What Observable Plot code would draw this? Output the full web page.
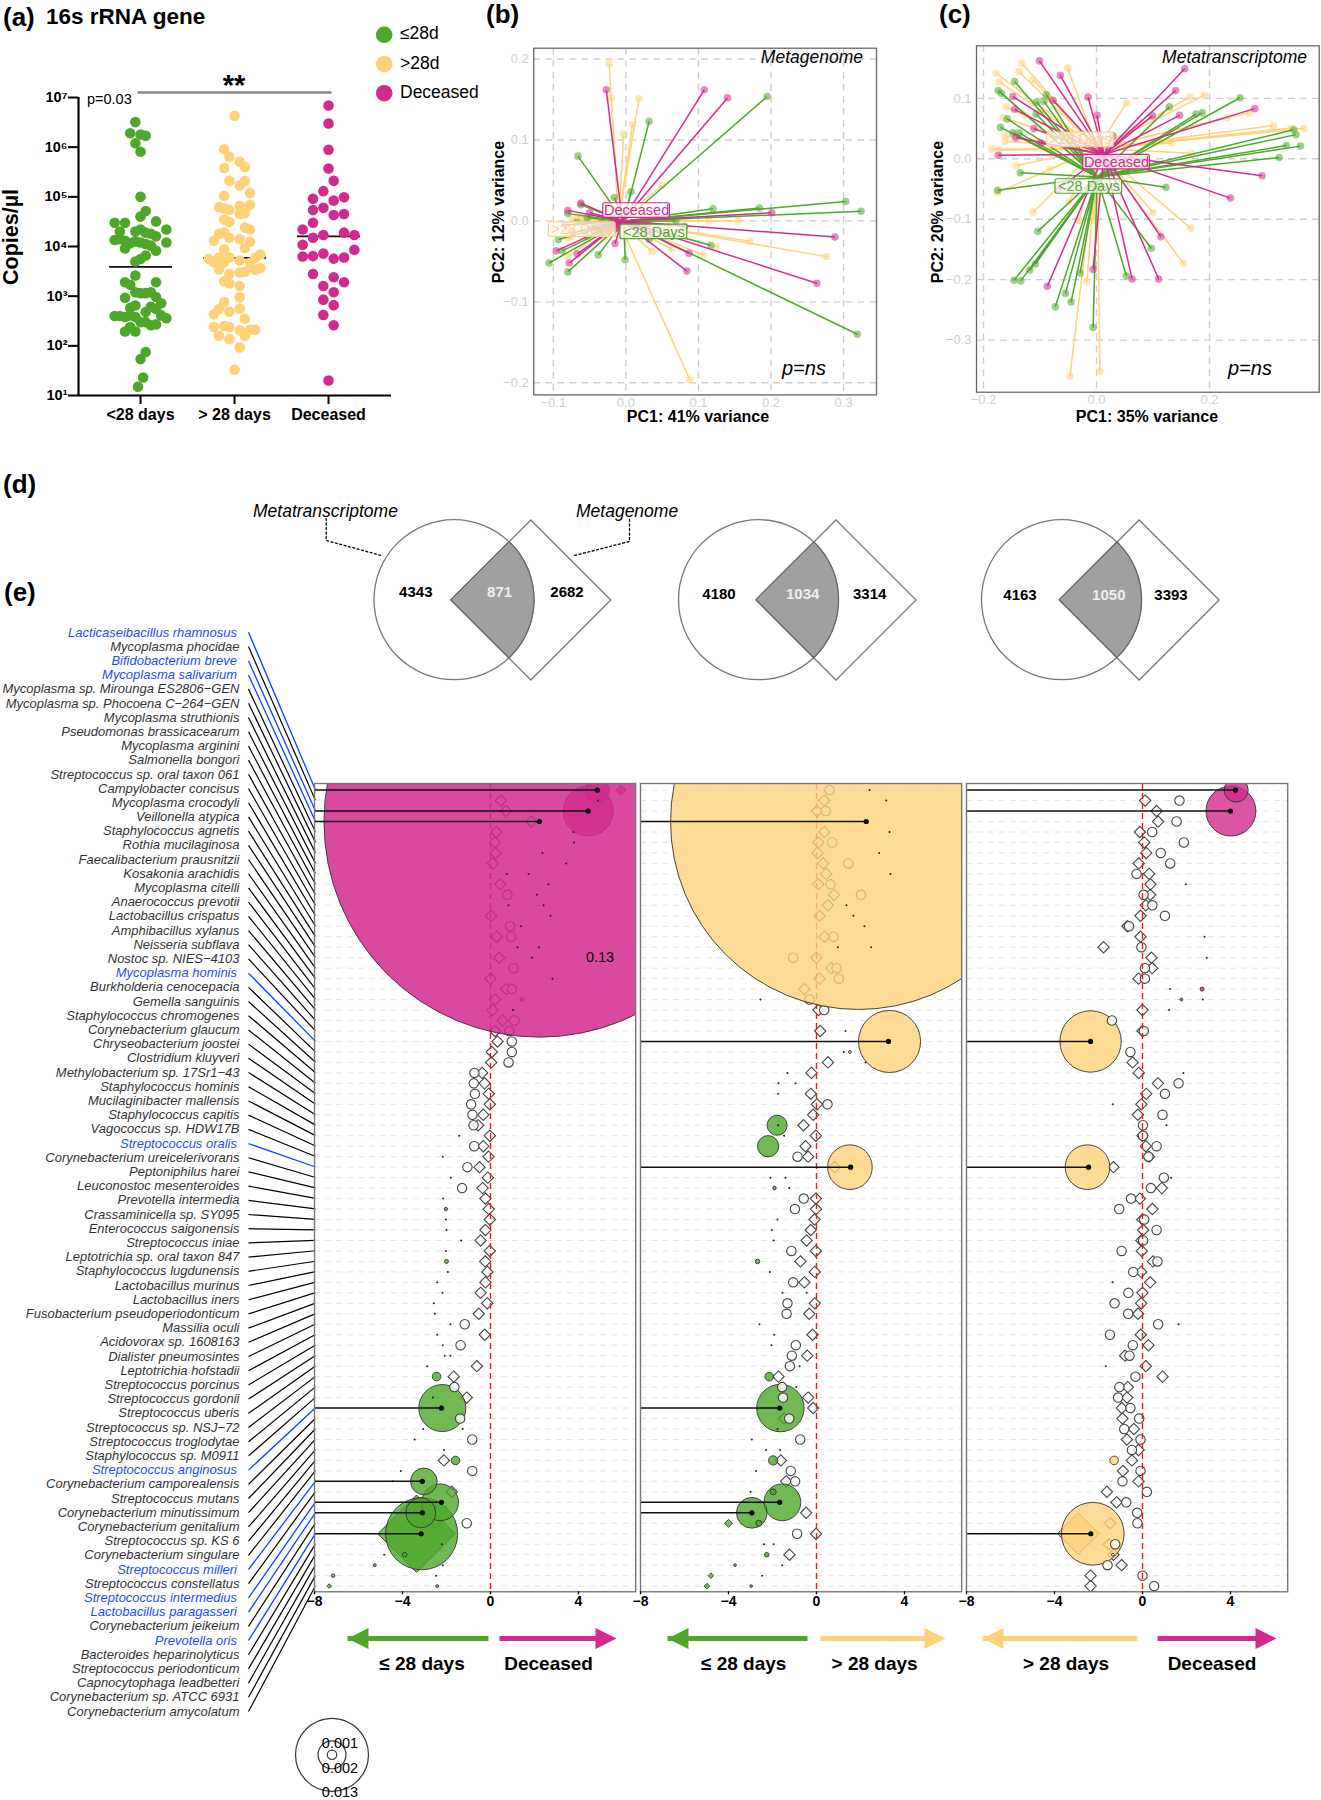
<!DOCTYPE html>
<html><head><meta charset="utf-8">
<script src="https://cdn.jsdelivr.net/npm/d3@7"></script>
<script src="https://cdn.jsdelivr.net/npm/@observablehq/plot@0.6"></script>
<style>
html,body{margin:0;background:#fff}
#fig{position:relative;width:1321px;height:1800px;overflow:hidden;font-family:"Liberation Sans",Arial,sans-serif;color:#000}
#fig svg{position:absolute}
#fig span{position:absolute;white-space:nowrap;line-height:1}
</style></head><body><div id="fig"></div>
<script>
const GREEN="#4EA72A", YELLOW="#FFD27A", MAGENTA="#D22B8F";
const groupColor={early:GREEN,late:YELLOW,dead:MAGENTA};

// ---------- (a) [swarm offset, copies/µl]
const categories=["<28 days","> 28 days","Deceased"];
const aEarly=[[-1,3.2e6],[-2,1.9e6],[0,1.8e6],[1,1.7e6],[-1,1.2e6],[0,8.1e5],[0,1e5],[1,5.2e4],[0,4e4],[-5,3e4],[-3,3e4],[3,3.2e4],[5,2.2e4],[-4,2e4],[-1,2e4],[0,2.2e4],[1,1.9e4],[2,1.8e4],[3,1.6e4],[-5,1.35e4],[-4,1.4e4],[-3,1.3e4],[-2,1.16e4],[-1,1.27e4],[0,1.2e4],[1,1.12e4],[2,1.04e4],[5,1.2e4],[-3,9.1e3],[3,8.2e3],[1,6.6e3],[0,5.6e3],[-1,5e3],[-1,2.6e3],[-3,1.9e3],[3,1.9e3],[-2,1.7e3],[-1,1.2e3],[0,1.15e3],[1,1.15e3],[2,1.2e3],[-3,930],[3,960],[4,720],[-1,650],[-2,580],[2,610],[3,550],[-5,400],[-4,400],[-3,380],[-2,410],[-1,380],[1,480],[4,410],[5,360],[0,300],[1,300],[2,260],[3,270],[-3,195],[-1,195],[-2,240],[1,75],[0,54],[0.5,23],[-0.5,15]];
const aLate=[[0,4.3e6],[-2,9.1e5],[-1,6.4e5],[1,5.1e5],[2,4e5],[-2,3.8e5],[2,2.1e5],[-1,2.1e5],[1,1.7e5],[3,1.2e5],[-2,1.05e5],[3,6.9e4],[-3,6.2e4],[-2,5.9e4],[1,6.6e4],[-1,5.5e4],[2,4.7e4],[1,4.5e4],[-2,3.5e4],[-1,3.1e4],[2,2.4e4],[3,2.2e4],[-3,1.8e4],[-2,1.9e4],[-1,1.5e4],[1,1.4e4],[3,1.25e4],[-4,1.3e4],[-2,8.8e3],[2,9.3e3],[-5,5.6e3],[-3,6e3],[-1,6e3],[-2,4.8e3],[1,5.2e3],[5,6.9e3],[4,5.9e3],[-4,4.8e3],[-3,3.5e3],[5,3.7e3],[4,3.4e3],[3,4.7e3],[2,3.1e3],[1,3e3],[-1,2.8e3],[-2,2e3],[-1,1.8e3],[1,1.6e3],[1,950],[-2,760],[-3,550],[-4,430],[1,560],[-1,490],[2,350],[-4,240],[-2,250],[-1,240],[1,205],[4,210],[3,210],[-3,160],[2,160],[-1,136],[1,93],[0,33]];
const aDead=[[0,6.9e6],[0,3e6],[0,8.9e5],[0,3.7e5],[1,2.1e5],[-1,1.3e5],[-3,9.1e4],[3,9.8e4],[1,8.4e4],[-3,5.4e4],[-1,6e4],[1,4.3e4],[3,4.5e4],[-3,3e4],[-5,2.2e4],[3,1.9e4],[5,1.7e4],[-1,1.7e4],[-3,1.5e4],[-5,1.08e4],[5,8.6e3],[-1,7.2e3],[-3,6.4e3],[-5,6.3e3],[1,5.7e3],[3,6e3],[-3,2.8e3],[1,2.4e3],[3,1.9e3],[-1,1.6e3],[1,1.2e3],[-1,850],[1,660],[-1,420],[1,260],[0,20]];
const aMedians=[3900,5900,16000];
const aTicks=[10,1e2,1e3,1e4,1e5,1e6,1e7];
const aTickLabels=["10¹","10²","10³","10⁴","10⁵","10⁶","10⁷"];

// ---------- (b) Metagenome PCA [PC1, PC2]
const bGreen=[[.1945,.1537],[.032,.123],[-.066,.08],[.303,.024],[.324,.012],[.184,.016],[.12,.015],[-.016,.029],[.007,.036],[-.062,.02],[-.08,.009],[-.067,-.002],[-.053,.004],[-.046,-.006],[-.033,-.002],[-.093,-.023],[-.054,-.019],[-.088,-.037],[-.106,-.052],[-.08,-.063],[-.038,-.042],[-.001,-.048],[.032,-.023],[.081,-.007],[.117,-.03],[.319,-.14],[.069,0]];
const bMagenta=[[-.027,.162],[.108,.162],[.14,.152],[.201,.01],[.288,-.02],[.263,-.077],[.084,-.062],[.087,-.04],[.036,-.015],[.029,-.005],[-.015,-.028],[-.013,-.009],[-.04,-.011],[-.08,.013],[-.062,.022],[-.05,.01],[-.084,-.005],[-.074,-.015],[-.096,-.037],[-.067,-.041],[-.078,-.052]];
const bYellow=[[-.023,.194],[-.02,.152],[.018,.151],[.009,.119],[-.003,.107],[.05,.044],[-.027,.021],[.155,0],[.114,0],[.059,-.005],[.075,-.012],[.171,-.025],[.124,-.032],[.276,-.044],[.107,-.042],[.063,-.035],[.036,-.038],[.088,-.196],[-.08,-.044],[-.076,-.02],[-.083,-.016],[-.08,-.021],[-.067,.005],[-.074,.002],[-.06,.005],[-.03,-.021],[-.01,-.018]];
const bCentroids={green:[-.003,-.0005],magenta:[-.005,0],yellow:[-.01,0]};
const bLabels=[{t:">28 Days",x:-.0602,y:-.0107,c:YELLOW},{t:"Deceased",x:.0147,y:.0128,c:MAGENTA},{t:"<28 Days",x:.0386,y:-.0136,c:GREEN}];

// ---------- (c) Metatranscriptome PCA
const cGreen=[[.254,.101],[.349,.048],[.353,.04],[.336,.022],[.361,.021],[.323,.002],[.187,.076],[.176,.074],[.129,.086],[.123,-.047],[.08,-.001],[.097,-.148],[.053,-.194],[-.006,-.279],[-.045,-.237],[-.055,-.223],[-.073,-.245],[-.029,-.189],[-.118,-.184],[-.108,-.174],[-.146,-.201],[-.134,-.202],[-.104,-.12],[-.175,-.052],[-.135,-.023],[-.17,.052],[-.158,.066],[-.148,.043],[-.137,.043],[-.174,.113],[-.168,.108],[-.145,.128],[-.089,.106],[-.093,.095],[-.106,.094],[-.107,.074]];
const cMagenta=[[.156,.149],[.14,.113],[.147,.072],[.099,.071],[.28,.083],[.293,-.028],[.237,-.065],[.114,-.129],[.11,-.199],[.063,-.199],[-.006,-.183],[-.087,-.211],[-.067,-.05],[-.174,.006],[-.143,.035],[-.098,.026],[-.111,.05],[-.145,.082],[-.148,.103],[-.077,.097],[-.101,.162],[-.064,.138],[-.015,.102],[.001,.072],[.029,.038],[.001,0]];
const cYellow=[[-.132,.158],[-.137,.144],[-.178,.142],[-.172,.127],[-.112,.131],[-.051,.15],[.053,.092],[.165,.102],[.191,.105],[.231,.068],[.27,.076],[.313,.055],[.345,.051],[.367,.05],[.133,.026],[.168,.009],[.1,-.089],[.167,-.115],[.154,-.173],[-.017,-.204],[.006,-.352],[-.047,-.36],[-.031,-.102],[-.112,-.088],[-.049,-.071],[-.175,-.056],[-.142,-.011],[-.083,-.017],[-.185,.016],[-.172,.014],[-.161,.029],[-.162,.038],[-.165,.068],[-.16,.086],[-.126,.072],[-.005,-.102]];
const cCentroids={green:[.001,-.03],magenta:[.013,.007],yellow:[.001,.017]};
const cLabels=[{t:">28 Days",x:-.0283,y:.0314,c:YELLOW},{t:"Deceased",x:.0354,y:-.0055,c:MAGENTA},{t:"<28 Days",x:-.0136,y:-.0458,c:GREEN}];

// ---------- (d) Venn counts
const vennMeta=[4343,4180,4163], vennShared=[871,1034,1050], vennGenome=[2682,3314,3393];

// ---------- (e) species
const species=["Lacticaseibacillus rhamnosus","Mycoplasma phocidae","Bifidobacterium breve","Mycoplasma salivarium","Mycoplasma sp. Mirounga ES2806−GEN","Mycoplasma sp. Phocoena C−264−GEN","Mycoplasma struthionis","Pseudomonas brassicacearum","Mycoplasma arginini","Salmonella bongori","Streptococcus sp. oral taxon 061","Campylobacter concisus","Mycoplasma crocodyli","Veillonella atypica","Staphylococcus agnetis","Rothia mucilaginosa","Faecalibacterium prausnitzii","Kosakonia arachidis","Mycoplasma citelli","Anaerococcus prevotii","Lactobacillus crispatus","Amphibacillus xylanus","Neisseria subflava","Nostoc sp. NIES−4103","Mycoplasma hominis","Burkholderia cenocepacia","Gemella sanguinis","Staphylococcus chromogenes","Corynebacterium glaucum","Chryseobacterium joostei","Clostridium kluyveri","Methylobacterium sp. 17Sr1−43","Staphylococcus hominis","Mucilaginibacter mallensis","Staphylococcus capitis","Vagococcus sp. HDW17B","Streptococcus oralis","Corynebacterium ureicelerivorans","Peptoniphilus harei","Leuconostoc mesenteroides","Prevotella intermedia","Crassaminicella sp. SY095","Enterococcus saigonensis","Streptococcus iniae","Leptotrichia sp. oral taxon 847","Staphylococcus lugdunensis","Lactobacillus murinus","Lactobacillus iners","Fusobacterium pseudoperiodonticum","Massilia oculi","Acidovorax sp. 1608163","Dialister pneumosintes","Leptotrichia hofstadii","Streptococcus porcinus","Streptococcus gordonii","Streptococcus uberis","Streptococcus sp. NSJ−72","Streptococcus troglodytae","Staphylococcus sp. M0911","Streptococcus anginosus","Corynebacterium camporealensis","Streptococcus mutans","Corynebacterium minutissimum","Corynebacterium genitalium","Streptococcus sp. KS 6","Corynebacterium singulare","Streptococcus milleri","Streptococcus constellatus","Streptococcus intermedius","Lactobacillus paragasseri","Corynebacterium jeikeium","Prevotella oris","Bacteroides heparinolyticus","Streptococcus periodonticum","Capnocytophaga leadbetteri","Corynebacterium sp. ATCC 6931","Corynebacterium amycolatum"];
const blueRows=[1,3,4,25,37,60,67,69,70,72];

// panel 1: ≤28 days vs Deceased  — [row, log2FC] / [row, log2FC, size, group]
const p1Diamonds=[[2,.47],[3,.7],[4,1.86],[5,.27],[6,.2],[7,.23],[8,.11],[10,.45],[13,.03],[15,.29],[17,.39],[19,0],[20,.71],[21,.21],[22,.09],[23,.55],[24,.21],[25,.32],[26,.06],[27,.03],[28,-.38],[29,-.27],[30,-.08],[31,-.03],[32,-.33],[33,-.56],[34,-.03],[35,-.33],[36,-.09],[37,-.5],[38,-.12],[39,-.36],[40,-.23],[41,-.08],[42,-.03],[43,-.23],[44,-.45],[45,-.03],[46,-.24],[47,-.14],[48,-.23],[49,-.45],[50,-.15],[51,-.53],[53,-.26],[56,-.62],[57,-1.67],[59,-1.08],[65,-2.12],[68,-1.76],[71,-2.5]];
const p1Circles=[[11,.77],[14,.89],[15,.94],[18,1.05],[20,.97],[23,1.09],[24,.85],[25,.97],[26,.97],[27,.82],[28,-.73],[29,-.76],[30,-.71],[31,-.88],[32,-.82],[33,-.77],[35,-.74],[37,-1.05],[39,-1.29],[52,-1.17],[54,-1.36],[58,-1.64],[61,-1.38],[63,-.83],[66,-.83],[71,-1.08]];
const p1Tiny=[[2,4.88],[5,3.77],[6,3.8],[7,2.36],[8,3.44],[9,.74],[9,1.73],[10,2.64],[11,2.11],[12,.82],[12,2.41],[13,2.73],[14,1.39],[16,1.23],[16,2.2],[17,1.88],[19,2.82],[22,1.02],[34,-1.42],[36,-2.17],[38,-1.8],[40,-2.15],[42,-2.03],[43,-2],[44,-1.33],[45,-2.03],[47,-1.94],[48,-2.42],[49,-2.18],[50,-2.58],[51,-2.53],[52,-1.82],[53,-2.42],[54,-2.17],[55,-2.08],[55,-1.82],[56,-2.88],[59,-2.62],[60,-2.44],[62,-3.06],[62,-1.26],[63,-3.45],[64,-2.11],[66,-4.08],[67,-4.45],[73,-2.21],[74,-4.83],[75,-2.17],[76,-2.47]];
const p1FilledDiamonds=[[1,5.92,.0002,"dead"],[77,-7.33,.000043,"early"],[72,-3.36,.0119,"early"]];
const p1Filled=[[57,-2.45,.00018,"early"],[65,-1.59,.00018,"early"],[41,-2.03,.000028,"early"],[46,-2,.000039,"early"],[75,-5.26,.00002,"early"],[76,-7.15,.00003,"early"],[77,-2.42,.00002,"early"],[74,-3.9,.00005,"early"],[21,1.42,.00003,"dead"],[60,-2.19,.0054,"early"],[67,-3.03,.00173,"early"],[69,-2.29,.0033,"early"],[70,-3.17,.0022,"early"],[72,-3.13,.0127,"early"],[1,4.86,.0014,"dead"],[3,4.44,.0061,"dead"]];
const p1Giant=[[4,2.23,.454,"dead"]];
const p1Lollipops=[[1,4.86],[3,4.44],[4,2.23],[60,-2.23],[67,-3.1],[69,-2.23],[70,-3.1],[72,-3.15]];

// panel 2: ≤28 days vs >28 days
const p2Diamonds=[[2,.35],[3,.03],[5,.36],[6,.09],[7,.05],[8,.3],[9,.44],[10,.08],[11,.79],[12,.52],[13,.14],[15,.36],[17,0],[18,.68],[19,.14],[20,-.55],[22,.09],[24,.17],[27,.52],[28,-.23],[30,-.26],[31,.02],[32,-.15],[33,-.59],[34,-.03],[35,-.5],[36,-.38],[37,.82],[40,-.03],[41,-.02],[42,-.09],[43,-.26],[44,-.45],[45,-.03],[46,-.73],[47,-.08],[48,-.55],[50,-.08],[51,-.33],[53,-.18],[55,-.42],[57,-1.73],[59,-.38],[60,-.15],[61,-1.47],[65,-1.62],[67,-1.38],[70,-.47],[72,-.02],[74,-1.23]];
const p2Circles=[[1,.59],[3,.42],[6,.71],[8,1.45],[10,.64],[11,2.02],[15,.77],[17,-1.06],[18,.91],[19,1.02],[21,-.32],[22,.35],[31,.5],[36,-.86],[40,-.58],[41,-.98],[45,-1.14],[48,-1.06],[50,-1.32],[51,-1.36],[54,-.94],[55,-1.12],[56,-1.21],[58,-1.56],[59,-1.52],[61,-1.24],[63,-.74],[66,-1.17],[67,-.97],[72,-.88]];
const p2Tiny=[[1,2.41],[2,3.17],[5,3.32],[7,2.85],[9,3.36],[12,1.36],[13,1.68],[14,2.18],[16,.97],[16,2.48],[21,-2.55],[24,1.32],[26,1.24],[27,2.23],[28,-1.32],[29,-1.73],[29,-.95],[30,-1.74],[33,-1.74],[34,-1.47],[38,-2.09],[38,-1.41],[39,-1.24],[42,-1.77],[43,-2.03],[44,-1.95],[47,-2.12],[49,-1.55],[49,-.45],[52,-2.59],[53,-1.92],[54,-2.05],[56,-.77],[58,-.92],[62,-1.77],[63,-2.94],[64,-2.29],[64,-1.65],[66,-2.74],[68,-3],[73,-2.38],[73,-1.95],[75,-1.56],[76,-2.47]];
const p2FilledDiamonds=[[71,-4,.00012,"early"],[76,-4.8,.00006,"early"],[77,-4.98,.00006,"early"]];
const p2Filled=[[26,1.52,.00002,"late"],[39,-1.91,.00003,"early"],[46,-2.68,.00005,"early"],[57,-2.15,.00018,"early"],[65,-1.97,.00021,"early"],[68,-1.97,.00009,"early"],[71,-2.62,.00009,"early"],[74,-2.26,.00005,"early"],[75,-3.7,.000017,"early"],[77,-2.97,.000017,"early"],[33,-1.79,.00098,"early"],[35,-2.2,.0011,"early"],[60,-1.64,.0055,"early"],[69,-1.55,.0033,"early"],[70,-2.94,.0023,"early"],[25,3.32,.0094,"late"],[37,1.52,.00486,"late"]];
const p2Giant=[[4,1.91,.345,"late"]];
const p2Lollipops=[[4,2.26],[25,3.27],[37,1.55],[60,-1.67],[69,-1.67],[70,-2.94]];

// panel 3: >28 days vs Deceased
const p3Diamonds=[[2,.12],[3,.64],[4,.71],[5,-.12],[6,.08],[7,.17],[8,-.17],[9,.3],[10,.36],[11,.35],[12,.15],[13,-.09],[14,-.68],[15,-.09],[16,-1.77],[17,.41],[18,.44],[19,-.18],[22,0],[24,0],[27,-.45],[28,-.17],[29,.7],[30,.17],[31,-.05],[32,-.21],[34,0],[35,.15],[36,.3],[37,-1.32],[39,.88],[40,-.12],[41,.45],[42,0],[43,.03],[44,-.05],[45,-.03],[46,.48],[47,-.06],[48,.35],[49,0],[50,-.06],[51,-.2],[53,-.08],[54,.27],[55,-.79],[56,.15],[57,.91],[58,-.67],[59,-.7],[60,-.94],[61,-.91],[62,-.39],[63,-.71],[64,-.18],[65,-.48],[66,-.89],[67,-.18],[68,-1.62],[69,-1.18],[71,-1.47],[73,-1.52],[74,-1.32],[75,-.95],[76,-2.36],[77,-2.36]];
const p3Circles=[[2,1.68],[4,1.55],[5,.44],[6,1.88],[7,.83],[8,1.26],[9,-.27],[11,.05],[12,.45],[13,1.02],[14,-.61],[16,-.05],[18,.11],[19,.11],[23,-1.39],[24,.06],[26,-.55],[29,1.64],[30,1.02],[32,.91],[33,.02],[34,.02],[35,.64],[36,.27],[38,.97],[39,.38],[40,-.52],[41,-1.06],[42,.08],[43,.64],[44,.03],[45,-.95],[46,.68],[47,-.42],[49,-.64],[50,-1.27],[51,-.65],[52,.71],[53,-1.48],[54,-.44],[55,-.59],[57,-.32],[58,-1.05],[59,-1.11],[60,-.55],[61,-.15],[62,-.83],[63,-.09],[64,-.48],[66,-.09],[67,-.91],[68,.2],[69,-.74],[70,-.24],[71,-.23],[73,-1.24],[75,-1.59],[76,0],[77,.53]];
const p3Tiny=[[10,1.97],[15,2.82],[17,2.92],[20,1.26],[21,2.74],[22,1.21],[28,1.86],[31,-1.35],[33,1.09],[38,1.3],[48,-1.36],[52,1.64],[56,-1.67]];
const p3FilledDiamonds=[[72,-2.92,.0034,"late"]];
const p3Filled=[[20,2.71,.00004,"dead"],[21,1.77,.00002,"dead"],[65,-1.29,.00018,"late"],[74,-1.35,.00002,"late"],[25,-2.36,.0092,"late"],[37,-2.5,.00486,"late"],[72,-2.26,.0096,"late"],[1,4.26,.0014,"dead"],[3,4.02,.0061,"dead"]];
const p3Giant=[];
const p3Lollipops=[[1,4.23],[3,4],[25,-2.36],[37,-2.45],[72,-2.35]];

// size legend
const sizeLegend=[.013,.0019,.000216];
const sizeLegendLabels=["0.001","0.002","0.013"];

const fig=document.getElementById("fig");
const base={style:{background:"transparent",fontFamily:"'Liberation Sans',Arial,sans-serif"}};
function place(svg,left,top){svg.style.left=left+"px";svg.style.top=top+"px";fig.appendChild(svg);}
function note(text,x,y,o={}){
  const s=document.createElement("span");s.textContent=text;
  s.style.left=x+"px";s.style.top=y+"px";s.style.fontSize=(o.size||14)+"px";
  if(o.bold)s.style.fontWeight="bold"; if(o.italic)s.style.fontStyle="italic"; if(o.color)s.style.color=o.color;
  const ax=o.anchor==="end"?"-100%":o.anchor==="middle"?"-50%":"0";
  s.style.transform=`translate(${ax},-50%)`+(o.rotate?` rotate(${o.rotate}deg)`:"");
  fig.appendChild(s);
}

// ========== (a)
const swarmStep=.055;
const aX=i=>d=>i+d[0]*swarmStep;
place(Plot.plot({...base,width:410,height:345,marginLeft:78,marginRight:19,marginTop:17,marginBottom:30,
  x:{domain:[-.66,2.67],axis:null},y:{type:"log",domain:[10,1e7],axis:null},
  marks:[
    Plot.link(aMedians,{x1:(d,i)=>i-.335,x2:(d,i)=>i+.335,y1:d=>d,y2:d=>d,stroke:"#111",strokeWidth:1.8}),
    Plot.dot(aEarly,{x:aX(0),y:d=>d[1],r:5.3,fill:GREEN}),
    Plot.dot(aLate,{x:aX(1),y:d=>d[1],r:5.3,fill:YELLOW}),
    Plot.dot(aDead,{x:aX(2),y:d=>d[1],r:5.3,fill:MAGENTA}),
    Plot.ruleX([-.66],{stroke:"#000",strokeWidth:2.2}),
    Plot.ruleY([10],{stroke:"#000",strokeWidth:2.2}),
    Plot.axisY({ticks:aTicks,tickFormat:d=>aTickLabels[aTicks.indexOf(d)],tickSize:10,tickPadding:1,strokeWidth:2,fontWeight:"bold",fontSize:14.5,label:null,fill:"#000"}),
    Plot.axisX({ticks:[0,1,2],tickFormat:d=>categories[d],tickSize:9,tickPadding:4,strokeWidth:2,fontWeight:"bold",fontSize:16,label:null,fill:"#000"})
  ]}),0,80);

// ========== (b), (c)
function pca(o){
  const set=(pts,c,col)=>[
    Plot.link(pts,{x1:()=>c[0],y1:()=>c[1],x2:d=>d[0],y2:d=>d[1],stroke:col,strokeWidth:1.5}),
    Plot.dot(pts,{x:d=>d[0],y:d=>d[1],r:3.8,fill:col,fillOpacity:.55})
  ];
  return Plot.plot({...base,width:o.w,height:o.h,marginLeft:o.ml,marginRight:o.mr,marginTop:o.mt,marginBottom:o.mb,
    x:{domain:o.xd,axis:null},y:{domain:o.yd,axis:null},
    marks:[
      Plot.ruleX(o.xt,{stroke:"#cfcfcf",strokeWidth:1.4,strokeDasharray:"7,5"}),
      Plot.ruleY(o.yt,{stroke:"#cfcfcf",strokeWidth:1.4,strokeDasharray:"7,5"}),
      ...set(o.yellow,o.cent.yellow,YELLOW),...set(o.green,o.cent.green,GREEN),...set(o.magenta,o.cent.magenta,MAGENTA),
      Plot.rect(o.labels,{x1:d=>d.x-o.bw,x2:d=>d.x+o.bw,y1:d=>d.y-o.bh,y2:d=>d.y+o.bh,fill:"#fff",fillOpacity:.72,stroke:d=>d.c,strokeWidth:1.2,rx:2,clip:false}),
      Plot.text(o.labels,{x:"x",y:"y",text:"t",fill:d=>d.c,fontSize:14.5}),
      Plot.frame({stroke:"#666",strokeWidth:1.3}),
      Plot.axisX({ticks:o.xt,tickFormat:d3.format(".1f"),tickSize:0,tickPadding:3,fill:"#cfcfcf",fontSize:13,label:null}),
      Plot.axisY({ticks:o.yt,tickFormat:d3.format(".1f"),tickSize:0,tickPadding:5,fill:"#cfcfcf",fontSize:13,label:null})
    ],color:{type:"identity"}});
}
place(pca({w:383,h:391,ml:30.3,mr:10,mt:17.7,mb:26.6,xd:[-.1269,.3453],yd:[-.215,.2134],xt:[-.1,0,.1,.2,.3],yt:[-.2,-.1,0,.1,.2],
  green:bGreen,magenta:bMagenta,yellow:bYellow,cent:bCentroids,labels:bLabels,bw:.046,bh:.009}),503,30);
place(pca({w:375,h:388,ml:30,mr:2.3,mt:15.3,mb:26.3,xd:[-.2124,.3941],yd:[-.3862,.187],xt:[-.2,0,.2],yt:[-.3,-.2,-.1,0,.1],
  green:cGreen,magenta:cMagenta,yellow:cYellow,cent:cCentroids,labels:cLabels,bw:.059,bh:.012}),946,30);

// ========== (e) species list and connectors
const rows=d3.range(1,78);
const labelStep=1.3563, firstLabelRow=-14.07;
const labelRow=r=>firstLabelRow+(r-1)*labelStep;
const isBlue=r=>blueRows.includes(r);
place(Plot.plot({...base,width:316,height:1101.4,margin:0,
  x:{domain:[0,316],axis:null},y:{domain:[90,-15.2],axis:null},
  marks:[
    Plot.link(rows.filter(r=>!isBlue(r)),{x1:()=>248,x2:()=>315,y1:r=>labelRow(r),y2:r=>r,stroke:"#000",strokeWidth:1.2}),
    Plot.link(rows.filter(isBlue),{x1:()=>248,x2:()=>315,y1:r=>labelRow(r),y2:r=>r,stroke:"#1040FF",strokeWidth:1.3}),
    Plot.text(rows.filter(r=>!isBlue(r)),{x:()=>239,y:r=>labelRow(r),text:r=>species[r-1],textAnchor:"end",fontStyle:"italic",fontSize:13,fill:"#333"}),
    Plot.text(rows.filter(isBlue),{x:()=>236.5,y:r=>labelRow(r),text:r=>species[r-1],textAnchor:"end",fontStyle:"italic",fontSize:13,fill:"#1A4BFF"})
  ]}),0,619.7);

// ========== (e) panels
function panel(d,left,giantOpacity){
  const filled=(data,symbol,op)=>Plot.dot(data,{x:e=>e[1],y:e=>e[0],r:e=>e[2],fill:e=>groupColor[e[3]],fillOpacity:op,stroke:"#333",strokeWidth:.9,symbol,clip:true});
  return place(Plot.plot({...base,width:351.2,height:848.3,marginLeft:20,marginRight:10,marginTop:10,marginBottom:30,
    x:{domain:[-8,6.6],axis:null},y:{domain:[77.54,.37],axis:null},
    r:{domain:[0,1],range:[0,320]},color:{type:"identity"},
    marks:[
      Plot.ruleY(rows,{stroke:"#e6e6e6",strokeWidth:1,strokeDasharray:"6,5"}),
      Plot.dot(d.diamonds,{x:e=>e[1],y:e=>e[0],r:5.1,symbol:"diamond2",fill:"none",stroke:"#444",strokeWidth:1.1}),
      filled(d.filledDiamonds,"diamond2",.75),
      filled(d.filled,"circle",.8),
      Plot.dot(d.circles,{x:e=>e[1],y:e=>e[0],r:4.7,fill:"#fff",fillOpacity:.8,stroke:"#444",strokeWidth:1.1}),
      Plot.ruleX([0],{stroke:"#f01515",strokeWidth:1.4,strokeDasharray:"6,4"}),
      filled(d.giant,"circle",giantOpacity),
      Plot.dot(d.tiny,{x:e=>e[1],y:e=>e[0],r:1,fill:"#222"}),
      Plot.link(d.lollipops,{x1:()=>-8,x2:e=>e[1],y1:e=>e[0],y2:e=>e[0],stroke:"#111",strokeWidth:1.5}),
      Plot.dot(d.lollipops,{x:e=>e[1],y:e=>e[0],r:2.6,fill:"#000"}),
      Plot.frame({stroke:"#777",strokeWidth:1.4}),
      Plot.axisX({ticks:[-8,-4,0,4],tickSize:3,tickPadding:1,strokeWidth:1.3,fontWeight:"bold",fontSize:14,fill:"#000",label:null})
    ]}),left-20,772.7);
}
panel({diamonds:p1Diamonds,circles:p1Circles,tiny:p1Tiny,filled:p1Filled,filledDiamonds:p1FilledDiamonds,giant:p1Giant,lollipops:p1Lollipops},314.3,.86);
panel({diamonds:p2Diamonds,circles:p2Circles,tiny:p2Tiny,filled:p2Filled,filledDiamonds:p2FilledDiamonds,giant:p2Giant,lollipops:p2Lollipops},640,.8);
panel({diamonds:p3Diamonds,circles:p3Circles,tiny:p3Tiny,filled:p3Filled,filledDiamonds:p3FilledDiamonds,giant:p3Giant,lollipops:p3Lollipops},965.7,.8);

// ========== page-level furniture: venns, leaders, arrows, legends
const venns=[{c:453.5,d:530.3},{c:758,d:835.5},{c:1061,d:1138.7}];
const vennY=599.2, vennR=80;
function lens(v){
  const g=v.d-v.c, s=g-vennR, t=(-s+Math.sqrt(2*vennR*vennR-s*s))/2;
  const a=Math.atan2(t,s+t);
  const arc=d3.range(41).map(i=>{const th=-a+2*a*i/40;return [v.c+vennR*Math.cos(th),vennY+vennR*Math.sin(th)];});
  const tip=[v.d-vennR,vennY];
  return [tip,...arc,tip];
}
const arrowShafts=[[488,347,GREEN],[499,600,MAGENTA],[807,667,GREEN],[820,930,YELLOW],[1137,982,YELLOW],[1157,1260,MAGENTA]];
const headR={draw(c){c.moveTo(0,0);c.lineTo(-21,-10.5);c.lineTo(-21,10.5);c.closePath();}};
const headL={draw(c){c.moveTo(0,0);c.lineTo(21,-10.5);c.lineTo(21,10.5);c.closePath();}};
const arrowTipsL=[[347,GREEN],[667,GREEN],[982,YELLOW]], arrowTipsR=[[616,MAGENTA],[945,YELLOW],[1276,MAGENTA]];
const arrowY=1638;
const legendKeys=[[34.3,GREEN],[63.7,YELLOW],[92.7,MAGENTA]];
place(Plot.plot({...base,width:1321,height:1800,margin:0,x:{domain:[0,1321],axis:null},y:{domain:[1800,0],axis:null},
  r:{domain:[0,1],range:[0,320]},color:{type:"identity"},
  marks:[
    Plot.dot(legendKeys,{x:()=>383.7,y:d=>d[0],r:8.3,fill:d=>d[1]}),
    Plot.line([[138,92],[330,92]],{stroke:"#888",strokeWidth:2.4}),
    ...venns.flatMap(v=>[
      Plot.dot([v],{x:()=>v.c,y:()=>vennY,r:vennR,fill:"none",stroke:"#777",strokeWidth:1.3}),
      Plot.dot([v],{x:()=>v.d,y:()=>vennY+.3,r:vennR/1.11,symbol:"diamond2",fill:"none",stroke:"#777",strokeWidth:1.3}),
      Plot.line(lens(v),{fill:"#a0a0a0",stroke:"#666",strokeWidth:1.2})
    ]),
    Plot.line([[325.7,518],[325.7,540],[381,555]],{stroke:"#000",strokeWidth:1.3,strokeDasharray:"2,2.5"}),
    Plot.line([[629,519],[629,541],[574,555]],{stroke:"#000",strokeWidth:1.3,strokeDasharray:"2,2.5"}),
    Plot.link(arrowShafts,{x1:d=>d[0],x2:d=>d[1],y1:()=>arrowY,y2:()=>arrowY,stroke:d=>d[2],strokeWidth:5}),
    Plot.dot(arrowTipsL,{x:d=>d[0],y:()=>arrowY,fill:d=>d[1],symbol:headL,r:10}),
    Plot.dot(arrowTipsR,{x:d=>d[0],y:()=>arrowY,fill:d=>d[1],symbol:headR,r:10}),
    Plot.dot(sizeLegend,{x:()=>331.5,y:()=>1754.3,r:d=>d,fill:"none",stroke:"#333",strokeWidth:1.2})
  ]}),0,0);

// ========== text
note("(a)",3,17,{size:26,bold:true}); note("16s rRNA gene",46,17,{size:22.5,bold:true});
note("(b)",486,14,{size:26,bold:true}); note("(c)",939,14,{size:26,bold:true});
note("(d)",3,484,{size:26,bold:true}); note("(e)",4,592,{size:26,bold:true});
note("≤28d",400,34,{size:17.5}); note(">28d",400,64,{size:17.5}); note("Deceased",400,93,{size:17.5});
note("p=0.03",87,99,{size:14.5}); note("**",234,85,{size:29,bold:true,anchor:"middle"});
note("Copies/µl",12,237,{size:21.5,bold:true,anchor:"middle",rotate:-90});
note("PC1: 41% variance",698,417,{size:16,bold:true,anchor:"middle"});
note("PC2: 12% variance",499,212,{size:16,bold:true,anchor:"middle",rotate:-90});
note("PC1: 35% variance",1147,417,{size:16,bold:true,anchor:"middle"});
note("PC2: 20% variance",938,212,{size:16,bold:true,anchor:"middle",rotate:-90});
note("Metagenome",863,58,{size:17.5,italic:true,anchor:"end"});
note("Metatranscriptome",1307,58,{size:17.5,italic:true,anchor:"end"});
note("p=ns",782,368,{size:20,italic:true}); note("p=ns",1228,368,{size:20,italic:true});
note("Metatranscriptome",253,512,{size:17.5,italic:true}); note("Metagenome",576,512,{size:17.5,italic:true});
const vennTextX=[[415.8,499.6,567],[719,802.7,869.7],[1020,1108.8,1171]], vennTextY=[591,593,594];
vennMeta.forEach((n,i)=>{
  note(String(n),vennTextX[i][0],vennTextY[i],{size:15,bold:true,anchor:"middle"});
  note(String(vennShared[i]),vennTextX[i][1],vennTextY[i],{size:15,bold:true,anchor:"middle",color:"#eee"});
  note(String(vennGenome[i]),vennTextX[i][2],vennTextY[i],{size:15,bold:true,anchor:"middle"});
});
note("0.13",600,957,{size:14.5,anchor:"middle"});
[["≤ 28 days",422],["Deceased",548.6],["≤ 28 days",743.7],["> 28 days",874.6],["> 28 days",1066],["Deceased",1212]].forEach(([t,x])=>note(t,x,1663,{size:19,bold:true,anchor:"middle"}));
sizeLegendLabels.forEach((t,i)=>note(t,340,[1743,1767.7,1792][i],{size:14.5,anchor:"middle"}));
</script></body></html>
